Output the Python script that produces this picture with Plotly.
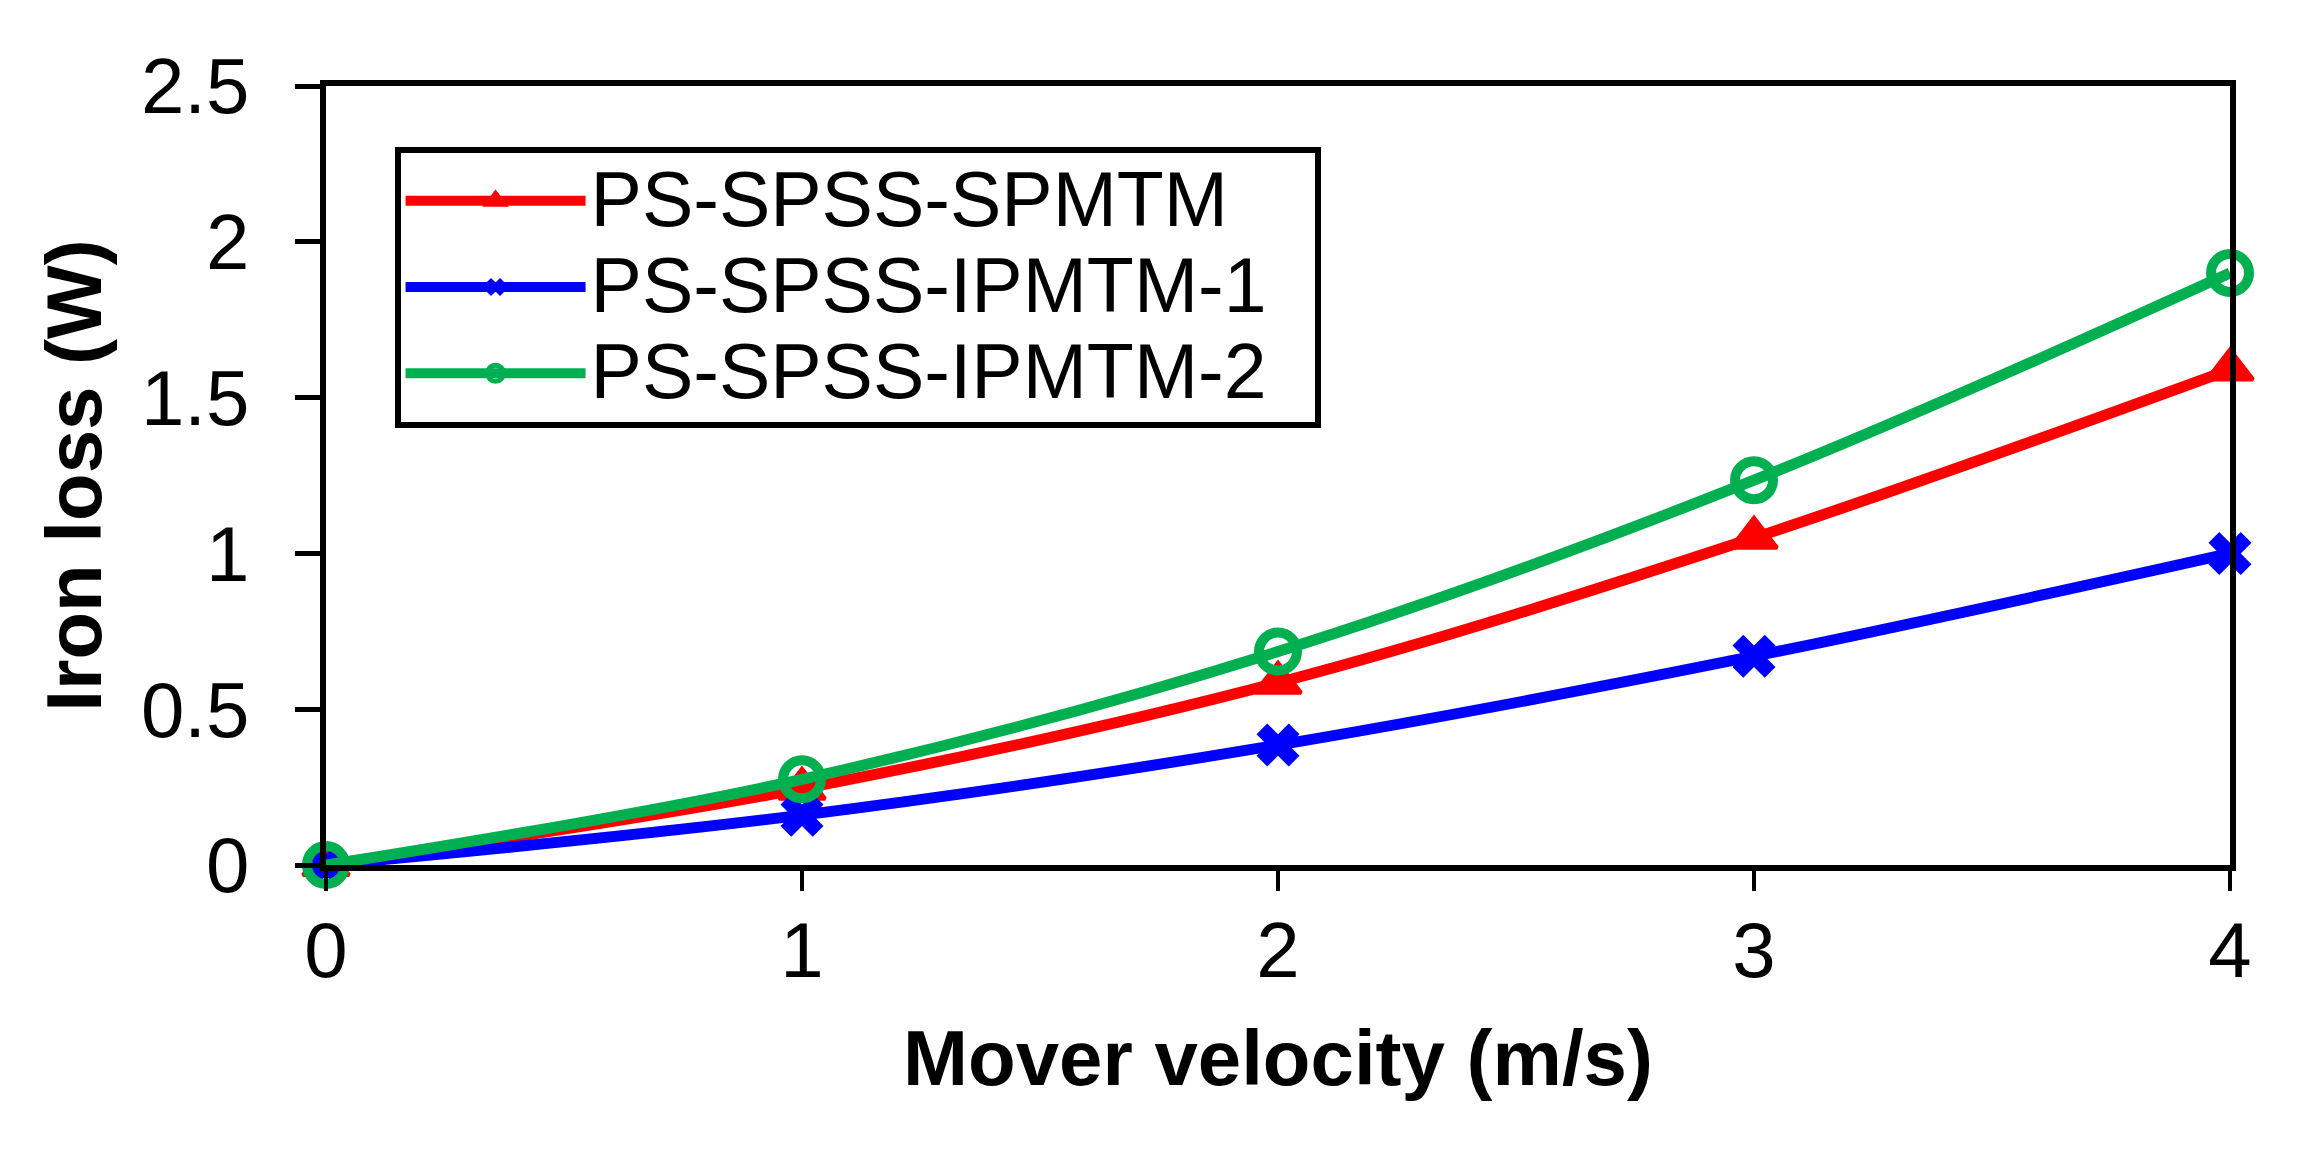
import plotly.graph_objects as go

# mover velocity (m/s)
velocity = [0, 1, 2, 3, 4]

# iron loss (W)
loss_spmtm = [0.0, 0.245, 0.585, 1.05, 1.59]
loss_ipmtm1 = [0.0, 0.16, 0.385, 0.67, 1.0]
loss_ipmtm2 = [0.0, 0.275, 0.685, 1.235, 1.9]

series_names = ["PS-SPSS-SPMTM", "PS-SPSS-IPMTM-1", "PS-SPSS-IPMTM-2"]

y_ticks = [0, 0.5, 1, 1.5, 2, 2.5]
y_ticktext = ["0", "0.5", "1", "1.5", "2", "2.5"]

FONT = "Arial, Liberation Sans, sans-serif"


def legend_label(name):
    # bigger glyphs than the legend row height would normally allow,
    # trailing nbsp gives the box some room on the right
    return '<span style="font-size:77px">' + name + '&nbsp;&nbsp;</span>'


fig = go.Figure()

fig.add_trace(go.Scatter(x=velocity, y=loss_spmtm, name=legend_label(series_names[0]),
                         mode="lines+markers", line=dict(color="#ff0000", width=11, shape="spline"),
                         marker=dict(symbol="triangle-up", size=40, color="#ff0000",
                                     line=dict(width=4, color="#ff0000")),
                         cliponaxis=False))
fig.add_trace(go.Scatter(x=velocity, y=loss_ipmtm1, name=legend_label(series_names[1]),
                         mode="lines+markers", line=dict(color="#0000ff", width=11, shape="spline"),
                         marker=dict(symbol="x", size=38, color="#0000ff"),
                         cliponaxis=False))
fig.add_trace(go.Scatter(x=velocity, y=loss_ipmtm2, name=legend_label(series_names[2]),
                         mode="lines+markers", line=dict(color="#00b050", width=11, shape="spline"),
                         marker=dict(symbol="circle-open", size=38, color="#00b050",
                                     line=dict(width=10, color="#00b050")),
                         cliponaxis=False))

fig.update_layout(
    width=2302, height=1151,
    margin=dict(l=318, r=80, t=78, b=294, pad=0),
    paper_bgcolor="white", plot_bgcolor="white",
    font=dict(family=FONT, color="black", size=78),
    showlegend=True,
    legend=dict(x=0.036, y=0.922, xanchor="left", yanchor="top",
                bordercolor="black", borderwidth=6, bgcolor="white",
                font=dict(size=64, family=FONT), itemwidth=180,
                tracegroupgap=0),
)

fig.update_xaxes(range=[0, 4], tickvals=velocity, ticks="outside", ticklen=20, tickwidth=4,
                 tickcolor="black", showline=True, linewidth=6, linecolor="black", mirror=True,
                 showgrid=False, zeroline=False, ticklabelstandoff=-8,
                 tickfont=dict(size=78, family=FONT),
                 title=dict(text="<b>Mover velocity (m/s)</b>", font=dict(size=78, family=FONT),
                            standoff=40))
fig.update_yaxes(range=[0, 2.5], tickvals=y_ticks, ticktext=y_ticktext, ticks="outside",
                 ticklen=25, tickwidth=5, tickcolor="black", showline=True, linewidth=6,
                 linecolor="black", mirror=True, showgrid=False, zeroline=False,
                 ticklabelstandoff=30, tickfont=dict(size=78, family=FONT),
                 title=dict(text="<b>Iron loss (W)</b>", font=dict(size=78, family=FONT),
                            standoff=16))

fig.write_html("out.html")
